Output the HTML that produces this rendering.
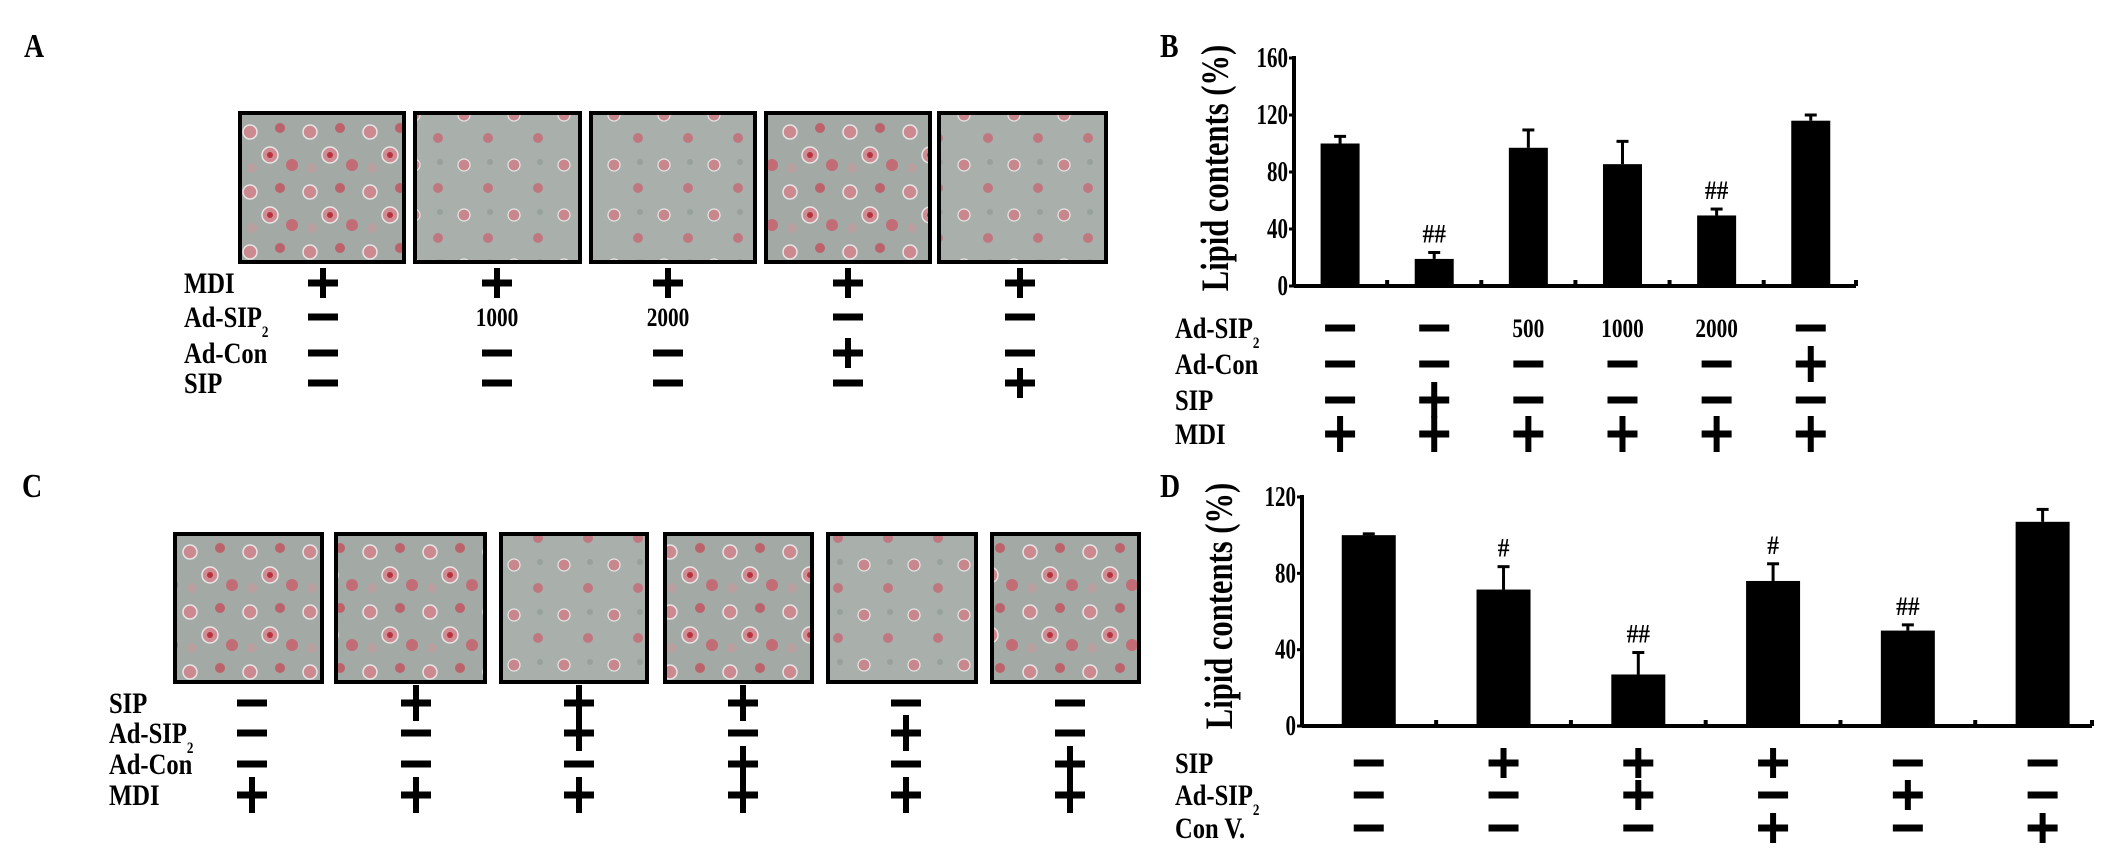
<!DOCTYPE html>
<html><head><meta charset="utf-8"><style>
html,body{margin:0;padding:0;background:#fff;}
svg{display:block;font-family:"Liberation Serif",serif;font-weight:bold;}
</style></head><body>
<svg id="fig" width="2126" height="852" viewBox="0 0 2126 852" xmlns="http://www.w3.org/2000/svg">
<defs>
<pattern id="cells" width="60" height="60" patternUnits="userSpaceOnUse">
<rect width="60" height="60" fill="#a3a9a5"/>
<circle cx="10" cy="12" r="7" fill="#cc8a90" stroke="#e6e6e6" stroke-width="1.5"/>
<circle cx="40" cy="8" r="5" fill="#bb626b"/>
<circle cx="30" cy="35" r="8" fill="#cf8d93" stroke="#e8e8e8" stroke-width="1.5"/>
<circle cx="52" cy="45" r="6" fill="#c26c75"/>
<circle cx="12" cy="48" r="5" fill="#b9a0a0"/>
<circle cx="30" cy="35" r="3" fill="#b8333e"/>
</pattern>
<pattern id="cellsLight" width="50" height="50" patternUnits="userSpaceOnUse">
<rect width="50" height="50" fill="#a9b0ab"/>
<circle cx="14" cy="15" r="6" fill="#c7878d" stroke="#e6e6e6" stroke-width="1.2"/>
<circle cx="38" cy="38" r="5" fill="#bf7880"/>
<circle cx="40" cy="12" r="3" fill="#98a19c"/>
</pattern>
</defs>
<g id="root"></g>
</svg>
<script>
// ---- Panel B data ----
const bCategories = ["MDI","MDI+SIP","Ad-SIP2 500","Ad-SIP2 1000","Ad-SIP2 2000","Ad-Con"];
const bValues = [100, 19, 97, 85.5, 49.5, 116];
const bErrors = [5, 4.5, 12.5, 16, 4.5, 4];
const bMarks = ["", "##", "", "", "##", ""];
const bTicks = [0, 40, 80, 120, 160];
// ---- Panel D data ----
const dCategories = ["MDI","SIP","SIP+Ad-SIP2","SIP+Con V.","Ad-SIP2","Con V."];
const dValues = [100, 71.5, 27, 76, 50, 107];
const dErrors = [0.7, 12, 11.5, 9, 3, 6.5];
const dMarks = ["", "#", "##", "#", "##", ""];
const dTicks = [0, 40, 80, 120];

const NS = "http://www.w3.org/2000/svg";
const root = document.getElementById("root");
function mk(tag, attrs, parent){
  const e = document.createElementNS(NS, tag);
  for (const k in attrs) e.setAttribute(k, attrs[k]);
  (parent || root).appendChild(e);
  return e;
}
function txt(s, x, y, size, anchor, parent, sx){
  const t = mk("text", {x:0, y:0, "font-size":size, "text-anchor":anchor||"start",
    transform:"translate(" + x + "," + y + ") scale(" + (sx||0.82) + ",1)"}, parent);
  t.textContent = s;
  return t;
}
function sym(kind, cx, cy, g, tall){
  if (kind === "-" ) {
    const r = mk("rect", {x:cx-15, y:cy-3.5, width:30, height:7, fill:"#000"}, g);
    
    
  } else if (kind === "+") {
    const h = mk("rect", {x:cx-15, y:cy-3.5, width:30, height:7, fill:"#000"}, g);
    
    
    const v = mk("rect", {x:cx-3, y:cy-(tall?18:15), width:6, height:(tall?36:30), fill:"#000"}, g);
    
    
  } else {
    const t = txt(kind, cx, cy+9, 26, "middle", g);
    
    
  }
}
function panelLetter(s, x, y){
  const t = txt(s, x, y, 34, "start");
  
  
}
function rowLabel(s, x, y, g, sub){
  const t = txt(s, x, y+10, 30, "start", g);
  
  
  if (sub) {
    const ts = document.createElementNS(NS, "tspan");
    ts.setAttribute("font-size", "16"); ts.setAttribute("dy", "10");
    ts.textContent = sub; t.appendChild(ts);
  }
}
function table(g, labelX, rows, cols, labels, tallStems){
  rows.forEach((ry, r) => {
    rowLabel(labels[r][0], labelX, ry, g, labels[r][1]);
    cols.forEach((cx, c) => sym(labels[r][2][c], cx, ry, g, tallStems));
  });
}
function micrographs(g, xs, top, bottom, fills){
  xs.forEach((p, i) => {
    const r = mk("rect", {x:p[0], y:top, width:p[1]-p[0], height:bottom-top, fill:"url(#" + fills[i] + ")", stroke:"#000", "stroke-width":4}, g);
    
    
  });
}
function barChart(g, o){
  const yS = v => o.y0 - (v / o.max) * (o.y0 - o.yTop);
  const span = o.x1 - o.x0;
  const xC = i => o.x0 + (o.first + o.step * i) * span;
  const ya = mk("line", {x1:o.x0, y1:o.yTop-2, x2:o.x0, y2:o.y0, stroke:"#000", "stroke-width":4}, g);
  
  
  const xa = mk("line", {x1:o.x0, y1:o.y0, x2:o.x1, y2:o.y0, stroke:"#000", "stroke-width":4}, g);
  
  
  o.ticks.forEach(t => {
    const tk = mk("line", {x1:o.x0-5, y1:yS(t), x2:o.x0, y2:yS(t), stroke:"#000", "stroke-width":3}, g);
    
    
    const tl = txt(String(t), o.x0-6, yS(t)+9, 28, "end", g, 0.75);
    
    
  });
  for (let i = 1; i <= o.vals.length; i++) {
    const mx = i < o.vals.length ? xC(i) - o.step*span/2 : o.x1;
    const m = mk("line", {x1:mx, y1:o.y0-6, x2:mx, y2:o.y0, stroke:"#000", "stroke-width":4}, g);
    
    
  }
  const title = mk("text", {x:0, y:0, "font-size":34, "text-anchor":"middle",
    transform:"translate(" + o.titleX + "," + o.titleY + ") rotate(-90) scale(" + o.titleSx + ",1.15)"}, g);
  title.textContent = "Lipid contents (%)";
  
  
  o.vals.forEach((v, i) => {
    const cx = xC(i);
    const b = mk("rect", {x:cx-o.bw/2, y:yS(v), width:o.bw, height:o.y0-yS(v), fill:"#000"}, g);
    
    
    const et = yS(v + o.errs[i]);
    const e1 = mk("line", {x1:cx, y1:yS(v), x2:cx, y2:et, stroke:"#000", "stroke-width":3}, g);
    
    
    const e2 = mk("line", {x1:cx-6, y1:et, x2:cx+6, y2:et, stroke:"#000", "stroke-width":3}, g);
    
    
    if (o.marks[i]) {
      const a = txt(o.marks[i], cx, et - 10, 26, "middle", g, 0.9);
      
      
    }
  });
  return xC;
}

// ---- Panel A ----
panelLetter("A", 24, 57);
const gA = mk("g", {});  
micrographs(gA, [[240,404],[415,580],[591,755],[766,930],[939,1106]], 113, 262, ["cells","cellsLight","cellsLight","cells","cellsLight"]);
table(gA, 184, [283,317,353,383], [323,497,668,848,1020], [
  ["MDI","",["+","+","+","+","+"]],
  ["Ad-SIP","2",["-","1000","2000","-","-"]],
  ["Ad-Con","",["-","-","-","+","-"]],
  ["SIP","",["-","-","-","-","+"]]
], false);

// ---- Panel B ----
panelLetter("B", 1160, 57);
const gB = mk("g", {});  
const bx = barChart(gB, {x0:1294, x1:1856, yTop:58, y0:286, max:160, ticks:bTicks, vals:bValues, errs:bErrors, marks:bMarks, first:0.082, step:0.1675, bw:39, titleX:1228, titleY:168, titleSx:0.9});
const bCols = bValues.map((v,i)=>bx(i));
table(gB, 1175, [328,364,400,434], bCols, [
  ["Ad-SIP","2",["-","-","500","1000","2000","-"]],
  ["Ad-Con","",["-","-","-","-","-","+"]],
  ["SIP","",["-","+","-","-","-","-"]],
  ["MDI","",["+","+","+","+","+","+"]]
], true);

// ---- Panel C ----
panelLetter("C", 22, 497);
const gC = mk("g", {});  
micrographs(gC, [[175,322],[336,485],[501,647],[665,812],[828,976],[992,1139]], 534, 682, ["cells","cells","cellsLight","cells","cellsLight","cells"]);
table(gC, 109, [703,733,764,795], [252,416,579,743,906,1070], [
  ["SIP","",["-","+","+","+","-","-"]],
  ["Ad-SIP","2",["-","-","+","-","+","-"]],
  ["Ad-Con","",["-","-","-","+","-","+"]],
  ["MDI","",["+","+","+","+","+","+"]]
], true);

// ---- Panel D ----
panelLetter("D", 1160, 497);
const gD = mk("g", {});  
const dx = barChart(gD, {x0:1302, x1:2092, yTop:497, y0:726, max:120, ticks:dTicks, vals:dValues, errs:dErrors, marks:dMarks, first:0.0845, step:0.1706, bw:54, titleX:1232, titleY:606, titleSx:0.9});
const dCols = dValues.map((v,i)=>dx(i));
table(gD, 1175, [763,795,828], dCols, [
  ["SIP","",["-","+","+","+","-","-"]],
  ["Ad-SIP","2",["-","-","+","-","+","-"]],
  ["Con V.","",["-","-","-","+","-","+"]]
], false);
</script>
</body></html>
